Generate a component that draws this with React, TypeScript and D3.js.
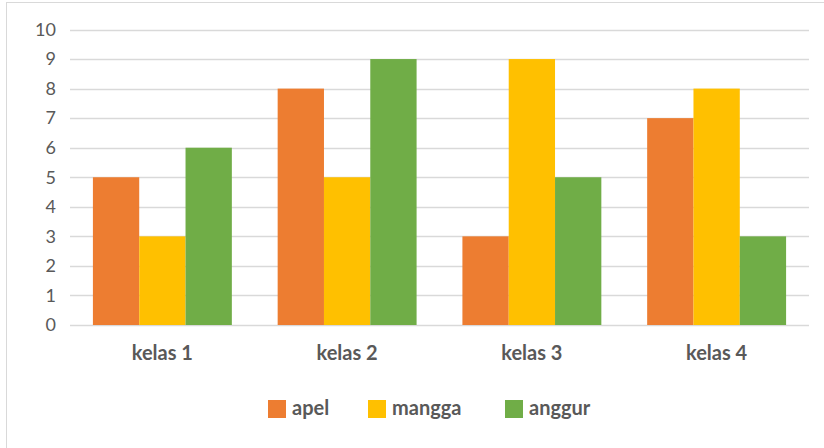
import React, { useEffect, useRef } from 'react';
import * as d3 from 'd3';

const categories = ['kelas 1', 'kelas 2', 'kelas 3', 'kelas 4'];
const seriesNames = ['apel', 'mangga', 'anggur'];
const apel = [5, 8, 3, 7];
const mangga = [3, 5, 9, 8];
const anggur = [6, 9, 5, 3];
const yTicks = [0, 1, 2, 3, 4, 5, 6, 7, 8, 9, 10];

const colors = ['#ED7D31', '#FFC000', '#70AD47'];
const WIDTH = 824;
const HEIGHT = 448;
const FONT = 'Lato, "Open Sans", sans-serif';

export default function App() {
  const ref = useRef<SVGSVGElement>(null);

  useEffect(() => {
    if (!ref.current) return;
    const svg = d3.select(ref.current);
    svg.selectAll('*').remove();

    const margin = { top: 29.5, bottom: 123, left: 70, right: 15 };
    const values = [apel, mangga, anggur];

    // outer chart frame
    svg
      .append('rect')
      .attr('x', 6.5)
      .attr('y', 2.5)
      .attr('width', WIDTH)
      .attr('height', HEIGHT)
      .attr('fill', '#fff')
      .attr('stroke', '#d9d9d9')
      .attr('stroke-width', 1);

    const x = d3
      .scaleBand<string>()
      .domain(categories)
      .range([margin.left, WIDTH - margin.right])
      .paddingInner(0.248)
      .paddingOuter(0.124);

    const x1 = d3
      .scaleBand<string>()
      .domain(seriesNames)
      .range([0, x.bandwidth()]);

    const y = d3
      .scaleLinear()
      .domain([0, 10])
      .range([HEIGHT - margin.bottom, margin.top]);

    // gridlines
    svg
      .append('g')
      .attr('stroke', '#d9d9d9')
      .attr('stroke-width', 1.3)
      .selectAll('line')
      .data(yTicks)
      .join('line')
      .attr('x1', margin.left)
      .attr('x2', WIDTH - margin.right)
      .attr('y1', d => Math.round(y(d)) + 0.5)
      .attr('y2', d => Math.round(y(d)) + 0.5);

    // y labels
    svg
      .append('g')
      .selectAll('text')
      .data(yTicks)
      .join('text')
      .attr('x', 56)
      .attr('y', d => y(d))
      .attr('dy', '0.35em')
      .attr('text-anchor', 'end')
      .attr('fill', '#595959')
      .style('font-family', FONT)
      .style('font-size', '18px')
      .text(d => d);

    // bars
    const groups = svg
      .append('g')
      .selectAll('g')
      .data(categories)
      .join('g')
      .attr('transform', d => `translate(${x(d)},0)`);

    groups
      .selectAll('rect')
      .data((_, i) => seriesNames.map((s, j) => ({ s, v: values[j][i], j })))
      .join('rect')
      .attr('x', d => x1(d.s) as number)
      .attr('width', x1.bandwidth())
      .attr('y', d => y(d.v))
      .attr('height', d => y(0) - y(d.v))
      .attr('fill', d => colors[d.j]);

    // category labels
    svg
      .append('g')
      .selectAll('text')
      .data(categories)
      .join('text')
      .attr('x', d => (x(d) as number) + x.bandwidth() / 2)
      .attr('y', 360)
      .attr('text-anchor', 'middle')
      .attr('fill', '#595959')
      .style('font-family', FONT)
      .style('font-size', '20px')
      .style('font-weight', 700)
      .text(d => d);

    // legend
    const legendX = [268, 368, 505];
    const legend = svg
      .append('g')
      .selectAll('g')
      .data(seriesNames)
      .join('g')
      .attr('transform', (_, i) => `translate(${legendX[i]},400)`);

    legend
      .append('rect')
      .attr('width', 18)
      .attr('height', 18)
      .attr('fill', (_, i) => colors[i]);

    legend
      .append('text')
      .attr('x', 24)
      .attr('y', 15)
      .attr('fill', '#595959')
      .style('font-family', FONT)
      .style('font-size', '20px')
      .style('font-weight', 700)
      .text(d => d);
  }, []);

  return (
    <div style={{ position: 'fixed', top: 0, left: 0 }}>
      <svg ref={ref} width={WIDTH} height={HEIGHT} style={{ display: 'block' }} />
    </div>
  );
}
